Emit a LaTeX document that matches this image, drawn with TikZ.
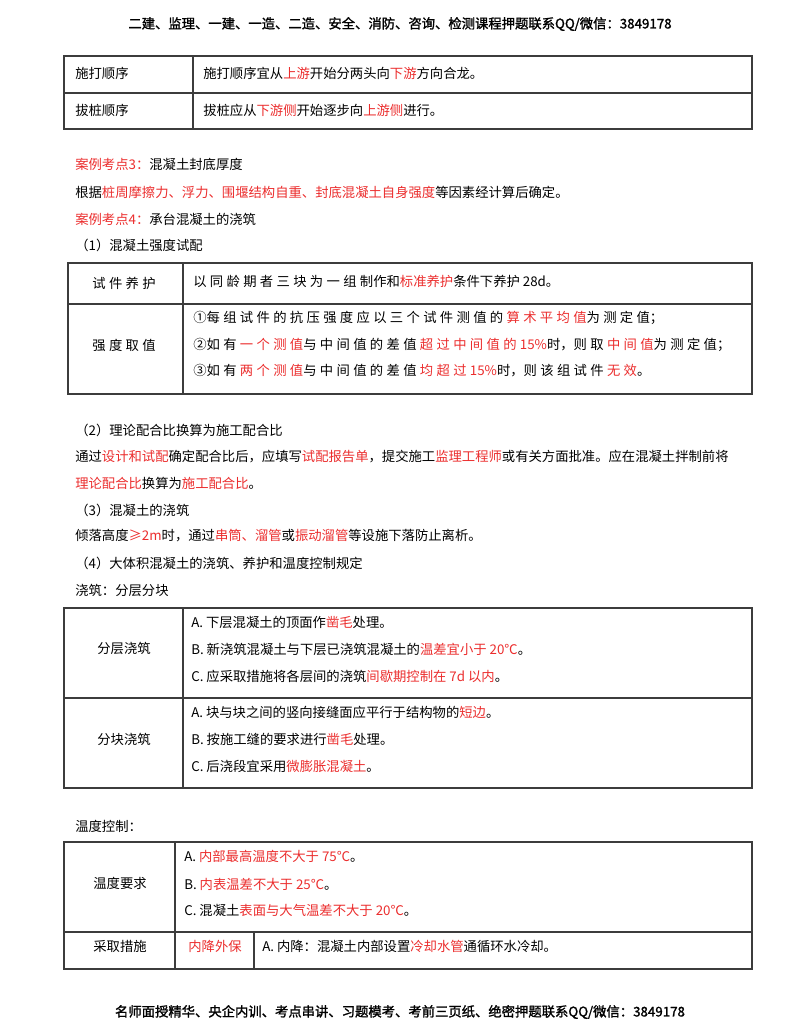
\documentclass[tikz,border=0pt]{standalone}
\usepackage{fontspec}
\setmainfont{Noto Sans CJK SC}
\newfontfamily\cjkb{Noto Sans CJK SC}[FakeBold=1.5]
\XeTeXlinebreaklocale "zh"
\definecolor{kred}{RGB}{235,45,45}
\definecolor{tline}{RGB}{60,60,60}
\newcommand{\R}[1]{\textcolor{kred}{#1}}
\newcommand{\gp}{\kern2.5pt}
\tikzset{
  t/.style={anchor=west,inner sep=0pt,font=\fontsize{10}{12}\selectfont},
  c/.style={anchor=center,inner sep=0pt,font=\fontsize{10}{12}\selectfont},
  box/.style={draw=tline,line width=1pt},
  hd/.style={anchor=center,inner sep=0pt,font=\cjkb\fontsize{10}{12}\selectfont},
}
\begin{document}
\begin{tikzpicture}[x=0.75pt,y=-0.75pt]
\useasboundingbox (0,0) rectangle (800,1035);
\node[hd] (head) at (400,24) {二建、监理、一建、一造、二造、安全、消防、咨询、检测课程押题联系QQ/微信：3849178};
% table 1
\draw[box] (64,56) rectangle (752,129);
\draw[box] (64,93) -- (752,93);
\draw[box] (193,56) -- (193,129);
\node[t] (a1) at (75,73) {施打顺序};
\node[t] (a2) at (203,73) {施打顺序宜从\R{上游}开始分两头向\R{下游}方向合龙。};
\node[t] (a3) at (75,110) {拔桩顺序};
\node[t] (a4) at (203,110) {拔桩应从\R{下游侧}开始逐步向\R{上游侧}进行。};
\node[t] (p1) at (75,164) {\R{案例考点3：}混凝土封底厚度};
\node[t] (p2) at (75,192) {根据\R{桩周摩擦力、浮力、围堰结构自重、封底混凝土自身强度}等因素经计算后确定。};
\node[t] (p3) at (75,219) {\R{案例考点4：}承台混凝土的浇筑};
\node[t] (p4) at (75,245) {（1）混凝土强度试配};
% table 2
\draw[box] (68,263) rectangle (752,394);
\draw[box] (68,304) -- (752,304);
\draw[box] (183,263) -- (183,394);
\node[c] (b1) at (124,283) {试\gp 件\gp 养\gp 护};
\node[t] (b2) at (193,281) {以\gp 同\gp 龄\gp 期\gp 者\gp 三\gp 块\gp 为\gp 一\gp 组\gp 制作和\R{标准养护}条件下养护 28d。};
\node[c] (b3) at (124,345) {强\gp 度\gp 取\gp 值};
\node[t] (b4) at (193,318) {①每\gp 组\gp 试\gp 件\gp 的\gp 抗\gp 压\gp 强\gp 度\gp 应\gp 以\gp 三\gp 个\gp 试\gp 件\gp 测\gp 值\gp 的\gp \R{算\gp 术\gp 平\gp 均\gp 值}为\gp 测\gp 定\gp 值；};
\node[t] (b5) at (193,345) {②如\gp 有\gp \R{一\gp 个\gp 测\gp 值}与\gp 中\gp 间\gp 值\gp 的\gp 差\gp 值\gp \R{超\gp 过\gp 中\gp 间\gp 值\gp 的\gp 15\%}时，则\gp 取\gp \R{中\gp 间\gp 值}为\gp 测\gp 定\gp 值；};
\node[t] (b6) at (193,371) {③如\gp 有\gp \R{两\gp 个\gp 测\gp 值}与\gp 中\gp 间\gp 值\gp 的\gp 差\gp 值\gp \R{均\gp 超\gp 过\gp 15\%}时，则\gp 该\gp 组\gp 试\gp 件\gp \R{无\gp 效}。};
\node[t] (q1) at (75,430) {（2）理论配合比换算为施工配合比};
\node[t] (q2) at (75,457) {通过\R{设计和试配}确定配合比后，应填写\R{试配报告单}，提交施工\R{监理工程师}或有关方面批准。应在混凝土拌制前将};
\node[t] (q3) at (75,483) {\R{理论配合比}换算为\R{施工配合比}。};
\node[t] (q4) at (75,510) {（3）混凝土的浇筑};
\node[t] (q5) at (75,536) {倾落高度\R{≥2m}时，通过\R{串筒、溜管}或\R{振动溜管}等设施下落防止离析。};
\node[t] (q6) at (75,563) {（4）大体积混凝土的浇筑、养护和温度控制规定};
\node[t] (q7) at (75,590) {浇筑：分层分块};
% table 3
\draw[box] (64,608) rectangle (752,788);
\draw[box] (64,698) -- (752,698);
\draw[box] (183,608) -- (183,788);
\node[c] (c1) at (124,648) {分层浇筑};
\node[t] (c2) at (191,622) {A. 下层混凝土的顶面作\R{凿毛}处理。};
\node[t] (c3) at (191,649) {B. 新浇筑混凝土与下层已浇筑混凝土的\R{温差宜小于 20℃}。};
\node[t] (c4) at (191,676) {C. 应采取措施将各层间的浇筑\R{间歇期控制在 7d 以内}。};
\node[c] (c5) at (124,739) {分块浇筑};
\node[t] (c6) at (191,712) {A. 块与块之间的竖向接缝面应平行于结构物的\R{短边}。};
\node[t] (c7) at (191,739) {B. 按施工缝的要求进行\R{凿毛}处理。};
\node[t] (c8) at (191,766) {C. 后浇段宜采用\R{微膨胀混凝土}。};
\node[t] (r0) at (75,826) {温度控制：};
% table 4
\draw[box] (64,842) rectangle (752,969);
\draw[box] (64,932) -- (752,932);
\draw[box] (175,842) -- (175,969);
\draw[box] (254,932) -- (254,969);
\node[c] (d1) at (120,883) {温度要求};
\node[t] (d2) at (184,856) {A. \R{内部最高温度不大于 75℃}。};
\node[t] (d3) at (184,884) {B. \R{内表温差不大于 25℃}。};
\node[t] (d4) at (184,910) {C. 混凝土\R{表面与大气温差不大于 20℃}。};
\node[c] (d5) at (120,946) {采取措施};
\node[c] (d6) at (215,946) {\R{内降外保}};
\node[t] (d7) at (262,946) {A. 内降：混凝土内部设置\R{冷却水管}通循环水冷却。};
\node[hd] (foot) at (400,1012) {名师面授精华、央企内训、考点串讲、习题模考、考前三页纸、绝密押题联系QQ/微信：3849178};
\end{tikzpicture}
\end{document}
